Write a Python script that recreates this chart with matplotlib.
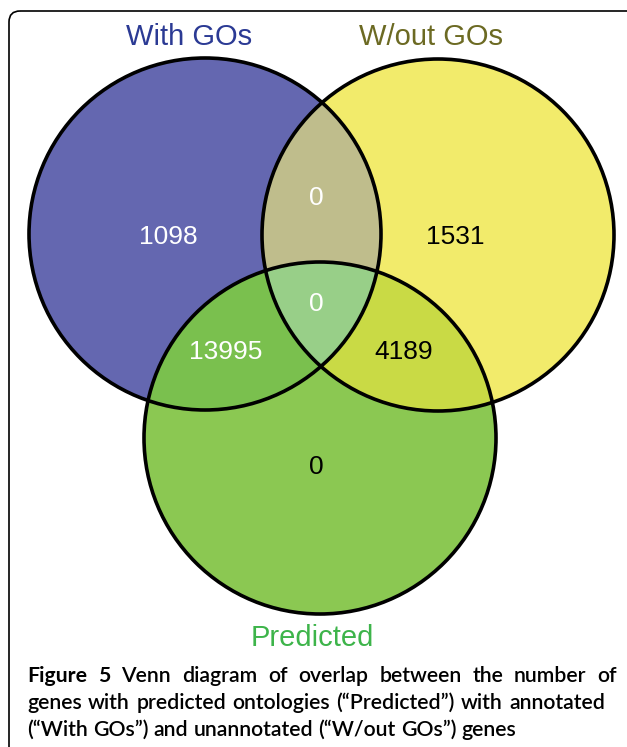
import numpy as np
import matplotlib
matplotlib.use("Agg")
import matplotlib.pyplot as plt
from matplotlib.patches import Circle, FancyBboxPatch

# sets and region counts (bits: 1=With GOs, 2=W/out GOs, 4=Predicted)
set_names = ["With GOs", "W/out GOs", "Predicted"]
set_label_colors = ["#2B3A94", "#6C6A23", "#3DB44A"]
region_codes = [1, 2, 4, 3, 5, 6, 7]
region_counts = [1098, 1531, 0, 0, 13995, 4189, 0]
region_text_colors = ["white", "black", "black", "white", "white", "black", "white"]
region_fill = {1: "#6467B0", 2: "#F2EB6B", 4: "#8BC852", 3: "#BFBD8C",
               5: "#7AC04E", 6: "#C9DA45", 7: "#98CF88"}

caption_lines = ["Figure 5 Venn diagram of overlap between the number of",
                 "genes with predicted ontologies (\u201cPredicted\u201d) with annotated",
                 "(\u201cWith GOs\u201d) and unannotated (\u201cW/out GOs\u201d) genes"]
caption_bold_words = 2  # "Figure 5"

W, H = 627, 747
fig = plt.figure(figsize=(W / 100, H / 100), dpi=100)
ax = fig.add_axes([0, 0, 1, 1])
ax.set_xlim(0, W)
ax.set_ylim(H, 0)
ax.axis("off")

# layout (pixel space)
centers = [(205, 234), (438, 235), (320, 438)]
radius = 176
label_pos = [(189, 37), (431, 37), (312, 638)]
count_pos = {1: (168, 237), 2: (455, 237), 4: (316, 467), 3: (316, 198),
             5: (226, 352), 6: (404, 352), 7: (316, 304)}

# filled regions
xx, yy = np.meshgrid(np.arange(W) + 0.5, np.arange(H) + 0.5)
code = np.zeros((H, W), dtype=int)
for i, (cx, cy) in enumerate(centers):
    code += ((xx - cx) ** 2 + (yy - cy) ** 2 <= radius ** 2).astype(int) << i
img = np.zeros((H, W, 4))
for c, col in region_fill.items():
    img[code == c] = matplotlib.colors.to_rgba(col)
ax.imshow(img, extent=(0, W, H, 0), interpolation="nearest", zorder=1)

for cx, cy in centers:
    ax.add_patch(Circle((cx, cy), radius, fill=False, ec="black", lw=2.6, zorder=3))

for c, n, tc in zip(region_codes, region_counts, region_text_colors):
    x, y = count_pos[c]
    ax.text(x, y, str(n), color=tc, fontsize=19, ha="center", va="center",
            family="Liberation Sans", zorder=4)

for name, col, (x, y) in zip(set_names, set_label_colors, label_pos):
    ax.text(x, y, name, color=col, fontsize=21, ha="center", va="center",
            family="Liberation Sans", zorder=4)

# frame
ax.add_patch(FancyBboxPatch((9, 11), W + 40, H + 40, boxstyle="round,pad=0,rounding_size=11",
                            fill=False, ec="black", lw=1.2, zorder=5, clip_on=False))

# caption: size fitted on the last line, first two lines justified word by word
cap_font = "Lato"
x0 = 27
line_ends = [617, 605, None]
base_y = [682, 709, 736]
fig.canvas.draw()
r = fig.canvas.get_renderer()
probe = ax.text(0, 0, caption_lines[2], fontsize=13, family=cap_font, fontweight="semibold")
fs = 13 * 489 / probe.get_window_extent(r).width
probe.remove()
space = ax.text(0, 0, "a a", fontsize=fs, family=cap_font, fontweight="semibold")
aa = ax.text(0, 0, "aa", fontsize=fs, family=cap_font, fontweight="semibold")
sp_w = space.get_window_extent(r).width - aa.get_window_extent(r).width
space.remove()
aa.remove()
for li, (line, x_end, y) in enumerate(zip(caption_lines, line_ends, base_y)):
    words = line.split(" ")
    arts = []
    for wi, word in enumerate(words):
        bold = li == 0 and wi < caption_bold_words
        arts.append(ax.text(x0, y, word, fontsize=fs, family=cap_font,
                            fontweight="bold" if bold else "semibold", va="baseline"))
    ws = [a.get_window_extent(r).width for a in arts]
    gap = sp_w if x_end is None else (x_end - x0 - sum(ws)) / (len(ws) - 1)
    x = x0
    for a, w in zip(arts, ws):
        a.set_x(x)
        x += w + gap

fig.savefig("out.png", dpi=100)
